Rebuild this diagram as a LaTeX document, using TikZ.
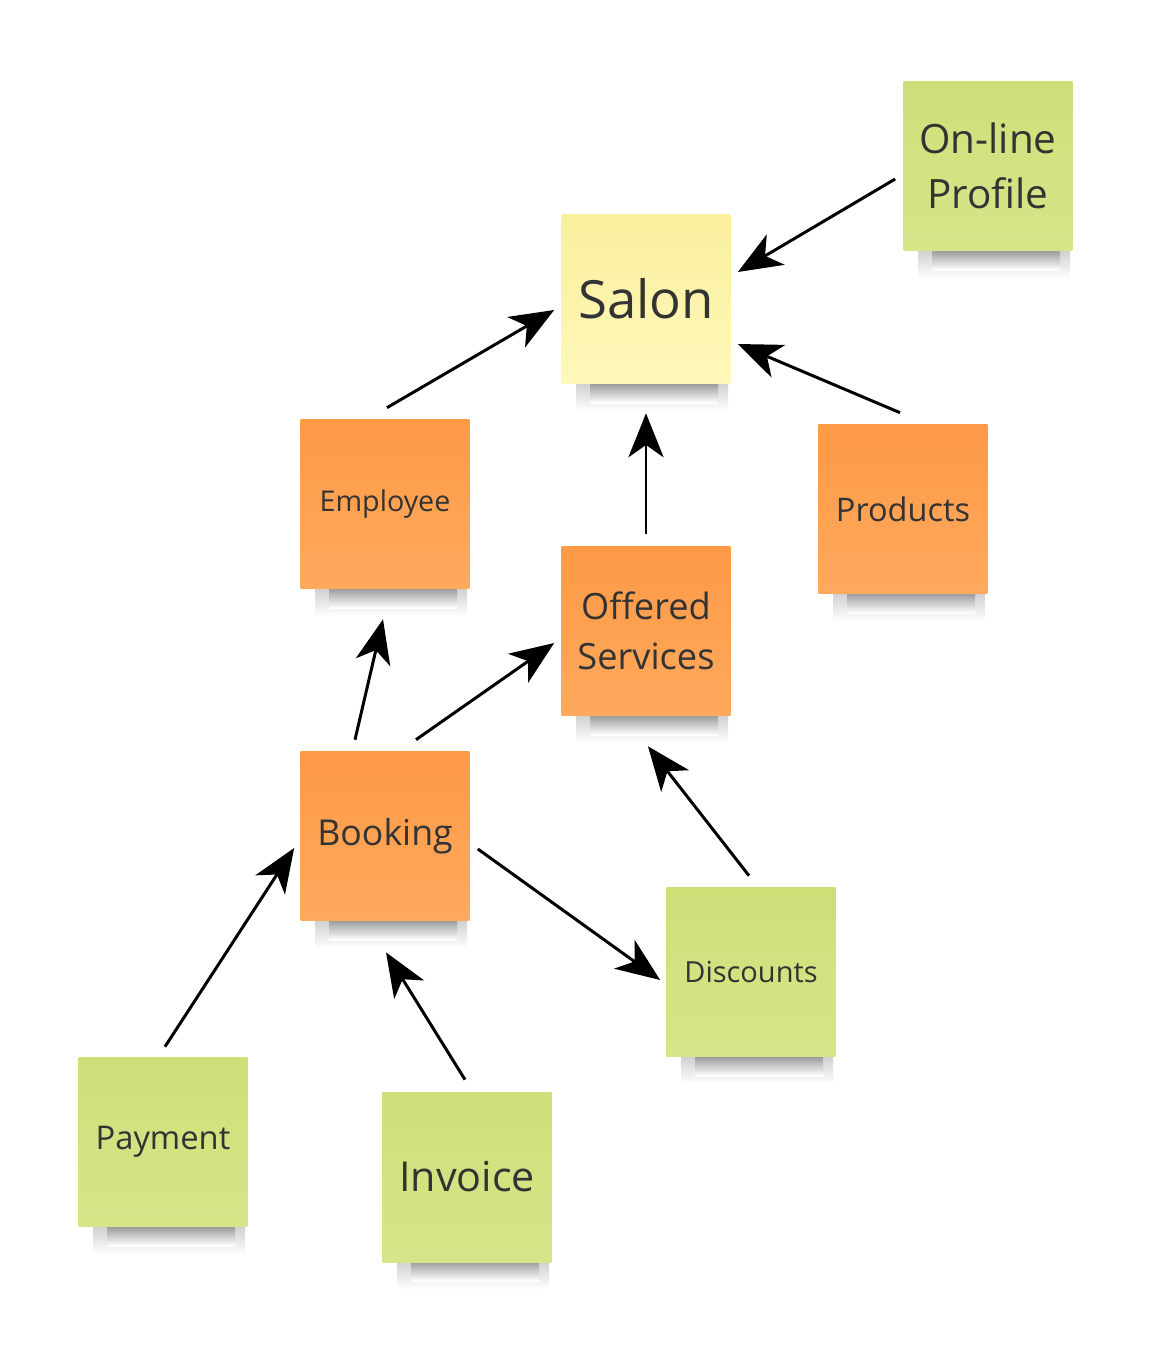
\documentclass[tikz,border=0pt]{standalone}
\usepackage{fontspec}
\setmainfont{Open Sans}
\usepackage{xcolor}
\usetikzlibrary{arrows.meta,calc}
\definecolor{ink}{HTML}{333333}
\definecolor{yellowtop}{HTML}{FAEF9E}
\definecolor{yellowbot}{HTML}{FFF8B9}
\definecolor{orangetop}{HTML}{FD9A46}
\definecolor{orangebot}{HTML}{FEA95E}
\definecolor{greentop}{HTML}{D0DE78}
\definecolor{greenbot}{HTML}{D7E58A}

\tikzset{
  note/.style={minimum width=3.38cm,minimum height=3.4cm,inner sep=0pt,
    align=center,text=ink},
  yellownote/.style={note,top color=yellowtop,bottom color=yellowbot},
  orangenote/.style={note,top color=orangetop,bottom color=orangebot},
  greennote/.style={note,top color=greentop,bottom color=greenbot},
  arr/.style={-{Stealth[length=25pt,width=20pt,inset=7pt]},line width=1.7pt}
}

\begin{document}
\begin{tikzpicture}[x=0.02cm,y=-0.02cm]
    \useasboundingbox (0,0) rectangle (1155,1350);
    % shadows under the notes
    \foreach \x/\y in {646/384,988/251,385/589,903/594,646/716,
                       385/921,751/1057,163/1227,467/1262}
    {
        \shade[top color=black!18,bottom color=white]
            (\x-70,\y) rectangle (\x+82,\y+27);
        \shade[top color=black!38,bottom color=white]
            (\x-56,\y) rectangle (\x+72,\y+19);
    }
    % notes
    \node[yellownote,font=\fontsize{30}{36}\selectfont] (salon) at (646,299) {Salon};
    \node[greennote,font=\fontsize{23}{31}\selectfont] (profile) at (988,166)
        {On-line\\Profile};
    \node[orangenote,font=\fontsize{16.3}{20}\selectfont] (employee) at (385,504) {Employee};
    \node[orangenote,font=\fontsize{18.5}{22}\selectfont] (products) at (903,509) {Products};
    \node[orangenote,font=\fontsize{20.6}{28.5}\selectfont] (offered) at (646,631)
        {Offered\\Services};
    \node[orangenote,font=\fontsize{20.3}{28}\selectfont] (booking) at (385,836) {Booking};
    \node[greennote,font=\fontsize{16.5}{21}\selectfont] (discounts) at (751,972) {Discounts};
    \node[greennote,font=\fontsize{18.6}{23}\selectfont] (payment) at (163,1142) {Payment};
    \node[greennote,font=\fontsize{23.5}{29}\selectfont] (invoice) at (467,1177) {Invoice};
    % connectors
    \draw[arr] ($(profile.west)+(-8,13)$) -- ($(salon.east)+(7,-27)$);
    \draw[arr] ($(products.north)+(-3,-11)$) -- ($(salon.east)+(7,45)$);
    \draw[arr] ($(employee.north)+(2,-11)$) -- ($(salon.west)+(-7,11)$);
    \draw[arr] ($(offered.north)+(0,-12)$) -- ($(salon.south)+(0,29)$);
    \draw[arr] ($(booking.north)+(-30,-11)$) -- ($(employee.south)+(-2,30)$);
    \draw[arr] ($(booking.north)+(31,-11)$) -- ($(offered.west)+(-7,12)$);
    \draw[arr] ($(discounts.north)+(-2,-11)$) -- ($(offered.south)+(2,30)$);
    \draw[arr] ($(booking.east)+(8,13)$) -- ($(discounts.west)+(-6,8)$);
    \draw[arr] ($(payment.north)+(2,-10)$) -- ($(booking.west)+(-6,12)$);
    \draw[arr] ($(invoice.north)+(-2,-12)$) -- ($(booking.south)+(1,31)$);
\end{tikzpicture}
\end{document}
